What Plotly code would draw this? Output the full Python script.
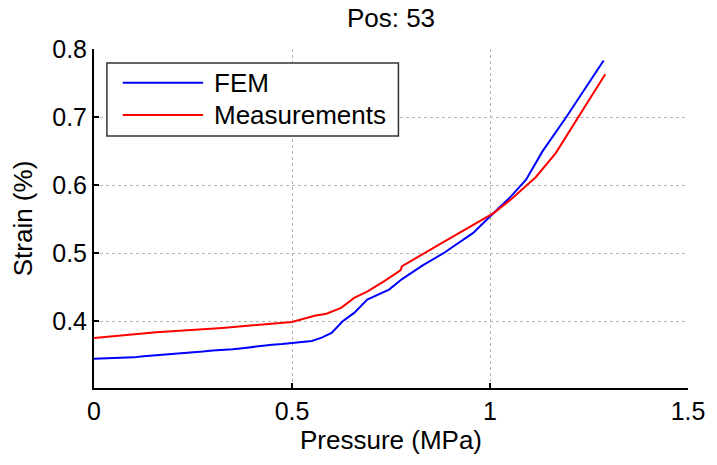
import plotly.graph_objects as go

# Pressure (MPa) / strain (%) samples for position 53
fem_pressure = [0.0, 0.025, 0.05, 0.075, 0.10, 0.125, 0.15, 0.175, 0.20, 0.225, 0.25,
                0.275, 0.30, 0.325, 0.35, 0.375, 0.40, 0.425, 0.45, 0.475, 0.50,
                0.55, 0.575, 0.60, 0.628, 0.657, 0.690, 0.716, 0.745, 0.778,
                0.83, 0.8825, 0.9575, 1.0, 1.049, 1.091, 1.1325, 1.191, 1.287]
fem_strain = [0.345, 0.3455, 0.3455, 0.346, 0.347, 0.3485, 0.3495, 0.351, 0.3515, 0.3525, 0.3545,
              0.3555, 0.357, 0.3575, 0.359, 0.3605, 0.3625, 0.3645, 0.3655, 0.3665, 0.368,
              0.371, 0.376, 0.383, 0.400, 0.4123, 0.432, 0.439, 0.4466, 0.462,
              0.482, 0.500, 0.5298, 0.554, 0.581, 0.608, 0.6496, 0.6987, 0.783]

meas_pressure = [0.0, 0.157, 0.324, 0.4325, 0.50, 0.557, 0.587, 0.624, 0.657, 0.691,
                 0.733, 0.774, 0.778, 0.88, 1.009, 1.057, 1.116, 1.166, 1.224, 1.291]
meas_strain = [0.3756, 0.3838, 0.3903, 0.395, 0.399, 0.408, 0.411, 0.4197, 0.4344, 0.444,
               0.459, 0.475, 0.481, 0.5155, 0.559, 0.581, 0.612, 0.647, 0.701, 0.763]

series_names = ["FEM", "Measurements"]
series_colors = ["#0000ff", "#ff0000"]

x_ticks = [0, 0.5, 1, 1.5]
x_tick_text = ["0", "0.5", "1", "1.5"]
y_ticks = [0.4, 0.5, 0.6, 0.7, 0.8]
y_tick_text = ["0.4", "0.5", "0.6", "0.7", "0.8"]

FONT = "Liberation Sans, Arial, sans-serif"

fig = go.Figure()
fig.add_trace(go.Scatter(x=fem_pressure, y=fem_strain, mode="lines", name=series_names[0],
                         line=dict(color=series_colors[0], width=2)))
fig.add_trace(go.Scatter(x=meas_pressure, y=meas_strain, mode="lines", name=series_names[1],
                         line=dict(color=series_colors[1], width=2)))

axis_common = dict(
    showline=True, linecolor="black", linewidth=2,
    ticks="inside", ticklen=5, tickwidth=2, tickcolor="black",
    showgrid=True, gridcolor="#b4b4b4", gridwidth=1, griddash="dot",
    zeroline=False, tickfont=dict(size=25, color="black", family=FONT),
)

# Boxed legend in the upper-left corner of the axes (paper coordinates)
box_x0, box_x1, box_y0, box_y1 = 0.0217, 0.5125, 0.7434, 0.9587
line_x0, line_x1, text_x = 0.0484, 0.1836, 0.1987
row_y = [0.9006, 0.8053]

shapes = [dict(type="rect", xref="paper", yref="paper", x0=box_x0, x1=box_x1,
               y0=box_y0, y1=box_y1, line=dict(color="#333333", width=1.5),
               fillcolor="white", layer="above")]
annotations = []
for name, color, y in zip(series_names, series_colors, row_y):
    shapes.append(dict(type="line", xref="paper", yref="paper", x0=line_x0, x1=line_x1,
                       y0=y, y1=y, line=dict(color=color, width=2), layer="above"))
    annotations.append(dict(text=name, xref="paper", yref="paper", x=text_x, y=y,
                            xanchor="left", yanchor="middle", showarrow=False,
                            font=dict(size=26, color="black", family=FONT)))

fig.update_layout(
    width=717, height=465,
    margin=dict(l=94, r=24, t=49, b=77),
    paper_bgcolor="white", plot_bgcolor="white",
    font=dict(family=FONT, color="black", size=25),
    title=dict(text="Pos: 53", x=0.5, xref="paper", y=1 - 18 / 465, yref="container",
               yanchor="middle", xanchor="center", font=dict(size=26)),
    xaxis=dict(range=[0, 1.5], tickvals=x_ticks, ticktext=x_tick_text,
               title=dict(text="Pressure (MPa)", font=dict(size=26), standoff=4),
               **axis_common),
    yaxis=dict(range=[0.302, 0.8], tickvals=y_ticks, ticktext=y_tick_text,
               title=dict(text="Strain (%)", font=dict(size=26), standoff=12),
               **axis_common),
    shapes=shapes,
    annotations=annotations,
    showlegend=False,
)

fig.write_html("out.html")
